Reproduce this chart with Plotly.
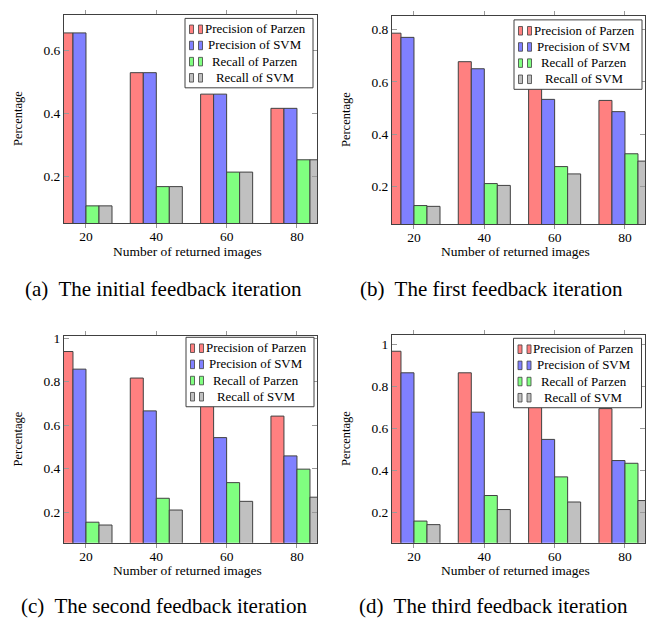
import plotly.graph_objects as go

# ---------------- data ----------------
returned_images = [20, 40, 60, 80]
series_names = ["Precision of Parzen", "Precision of SVM", "Recall of Parzen", "Recall of SVM"]

a_prec_parzen = [0.655, 0.529, 0.461, 0.416]
a_prec_svm = [0.655, 0.529, 0.461, 0.416]
a_rec_parzen = [0.107, 0.168, 0.214, 0.253]
a_rec_svm = [0.107, 0.168, 0.214, 0.253]

b_prec_parzen = [0.786, 0.677, 0.600, 0.529]
b_prec_svm = [0.770, 0.650, 0.533, 0.486]
b_rec_parzen = [0.127, 0.211, 0.276, 0.325]
b_rec_svm = [0.124, 0.204, 0.248, 0.297]

c_prec_parzen = [0.939, 0.817, 0.720, 0.642]
c_prec_svm = [0.858, 0.666, 0.543, 0.459]
c_rec_parzen = [0.154, 0.264, 0.336, 0.398]
c_rec_svm = [0.141, 0.210, 0.250, 0.269]

d_prec_parzen = [0.968, 0.865, 0.730, 0.694]
d_prec_svm = [0.865, 0.677, 0.547, 0.446]
d_rec_parzen = [0.157, 0.279, 0.368, 0.433]
d_rec_svm = [0.140, 0.212, 0.248, 0.255]

captions = ["(a)  The initial feedback iteration", "(b)  The first feedback iteration",
            "(c)  The second feedback iteration", "(d)  The third feedback iteration"]
x_title = "Number of returned images"
y_title = "Percentage"

panels = [
    [a_prec_parzen, a_prec_svm, a_rec_parzen, a_rec_svm],
    [b_prec_parzen, b_prec_svm, b_rec_parzen, b_rec_svm],
    [c_prec_parzen, c_prec_svm, c_rec_parzen, c_rec_svm],
    [d_prec_parzen, d_prec_svm, d_rec_parzen, d_rec_svm],
]
y_ranges = [[0.052, 0.712], [0.0557, 0.852], [0.06, 1.009], [0.054, 1.044]]
y_ticks = [[0.2, 0.4, 0.6], [0.2, 0.4, 0.6, 0.8], [0.2, 0.4, 0.6, 0.8, 1], [0.2, 0.4, 0.6, 0.8, 1]]

# ---------------- style / layout ----------------
FW, FH = 654, 621
fills = ["#FF8080", "#8080FF", "#80FF80", "#C0C0C0"]
outline = "#404040"
FONT = "Liberation Serif, Times New Roman, serif"


def PX(x):
    return x / FW


def PY(y):
    return 1 - y / FH


# panel boxes in page pixels: (left, top, right, bottom)
boxes = [(64, 10, 317, 220), (392, 11, 645, 221), (64, 334, 317, 542), (392, 333, 645, 542)]
legend_box = [(185, 13.5), (514, 15), (186, 335), (513.5, 336)]   # left, top
LW, LH = 128, 70
caption_pos = [(163, 286), (491, 286), (164, 606), (493, 606)]

fig = go.Figure()
annotations = []
shapes = []
layout = dict(
    width=FW, height=FH,
    margin=dict(l=0, r=0, t=0, b=0),
    paper_bgcolor="white", plot_bgcolor="white",
    barmode="group", bargap=0.26, bargroupgap=0,
    font=dict(family=FONT, size=13, color="black"),
    showlegend=False,
)

for p, vals in enumerate(panels):
    sfx = "" if p == 0 else str(p + 1)
    for s, v in enumerate(vals):
        fig.add_trace(go.Bar(
            x=returned_images, y=v, name=series_names[s],
            marker=dict(color=fills[s], line=dict(color=outline, width=1)),
            xaxis="x" + sfx, yaxis="y" + sfx,
        ))
    l, t, r, b = boxes[p]
    layout["xaxis" + sfx] = dict(
        domain=[PX(l), PX(r)], anchor="y" + sfx, range=[13.75, 85.7],
        tickvals=returned_images, ticks="outside", ticklen=4, tickcolor="#999999",
        showline=True, linecolor=outline, linewidth=1, mirror="ticks",
        showgrid=False, zeroline=False, tickfont=dict(size=13.5, family=FONT),
        ticklabelstandoff=-3,
    )
    layout["yaxis" + sfx] = dict(
        domain=[PY(b), PY(t)], anchor="x" + sfx, range=y_ranges[p],
        tickvals=y_ticks[p], ticks="inside", ticklen=5, tickcolor="#999999",
        showline=True, linecolor=outline, linewidth=1, mirror="ticks",
        showgrid=False, zeroline=False, tickfont=dict(size=13.5, family=FONT),
    )
    # custom legend (box, double-bar icons, centred labels)
    lx, ly = legend_box[p]
    shapes.append(dict(type="rect", xref="paper", yref="paper",
                       x0=PX(lx), x1=PX(lx + LW), y0=PY(ly + LH), y1=PY(ly),
                       fillcolor="white", line=dict(color=outline, width=1), layer="above"))
    for s, name in enumerate(series_names):
        cy = ly + 11 + 16.3 * s
        for ix in (4.5, 13.5):
            shapes.append(dict(type="rect", xref="paper", yref="paper",
                               x0=PX(lx + ix), x1=PX(lx + ix + 4), y0=PY(cy + 4.3), y1=PY(cy - 4.3),
                               fillcolor=fills[s], line=dict(color=outline, width=0.8), layer="above"))
        annotations.append(dict(text=name, x=PX(lx + 70), y=PY(cy), xref="paper", yref="paper",
                                showarrow=False, xanchor="center", yanchor="middle",
                                font=dict(size=12.9, family=FONT)))
    # axis titles
    annotations.append(dict(
        text=x_title, x=PX((l + r) / 2 - 3), y=PY(b + 28), xref="paper", yref="paper",
        showarrow=False, xanchor="center", yanchor="middle", font=dict(size=13.5, family=FONT)))
    annotations.append(dict(
        text=y_title, x=PX(l - 46), y=PY((t + b) / 2), xref="paper", yref="paper",
        showarrow=False, textangle=-90, xanchor="center", yanchor="middle",
        font=dict(size=12.5, family=FONT)))
    cx, cy = caption_pos[p]
    annotations.append(dict(
        text=captions[p], x=PX(cx), y=PY(cy), xref="paper", yref="paper",
        showarrow=False, xanchor="center", yanchor="middle", font=dict(size=21, family=FONT)))

layout["annotations"] = annotations
layout["shapes"] = shapes
fig.update_layout(**layout)
fig.write_html("out.html",
               config={"displayModeBar": False},
               post_script="document.body.style.margin='0';document.body.style.overflow='hidden';")
